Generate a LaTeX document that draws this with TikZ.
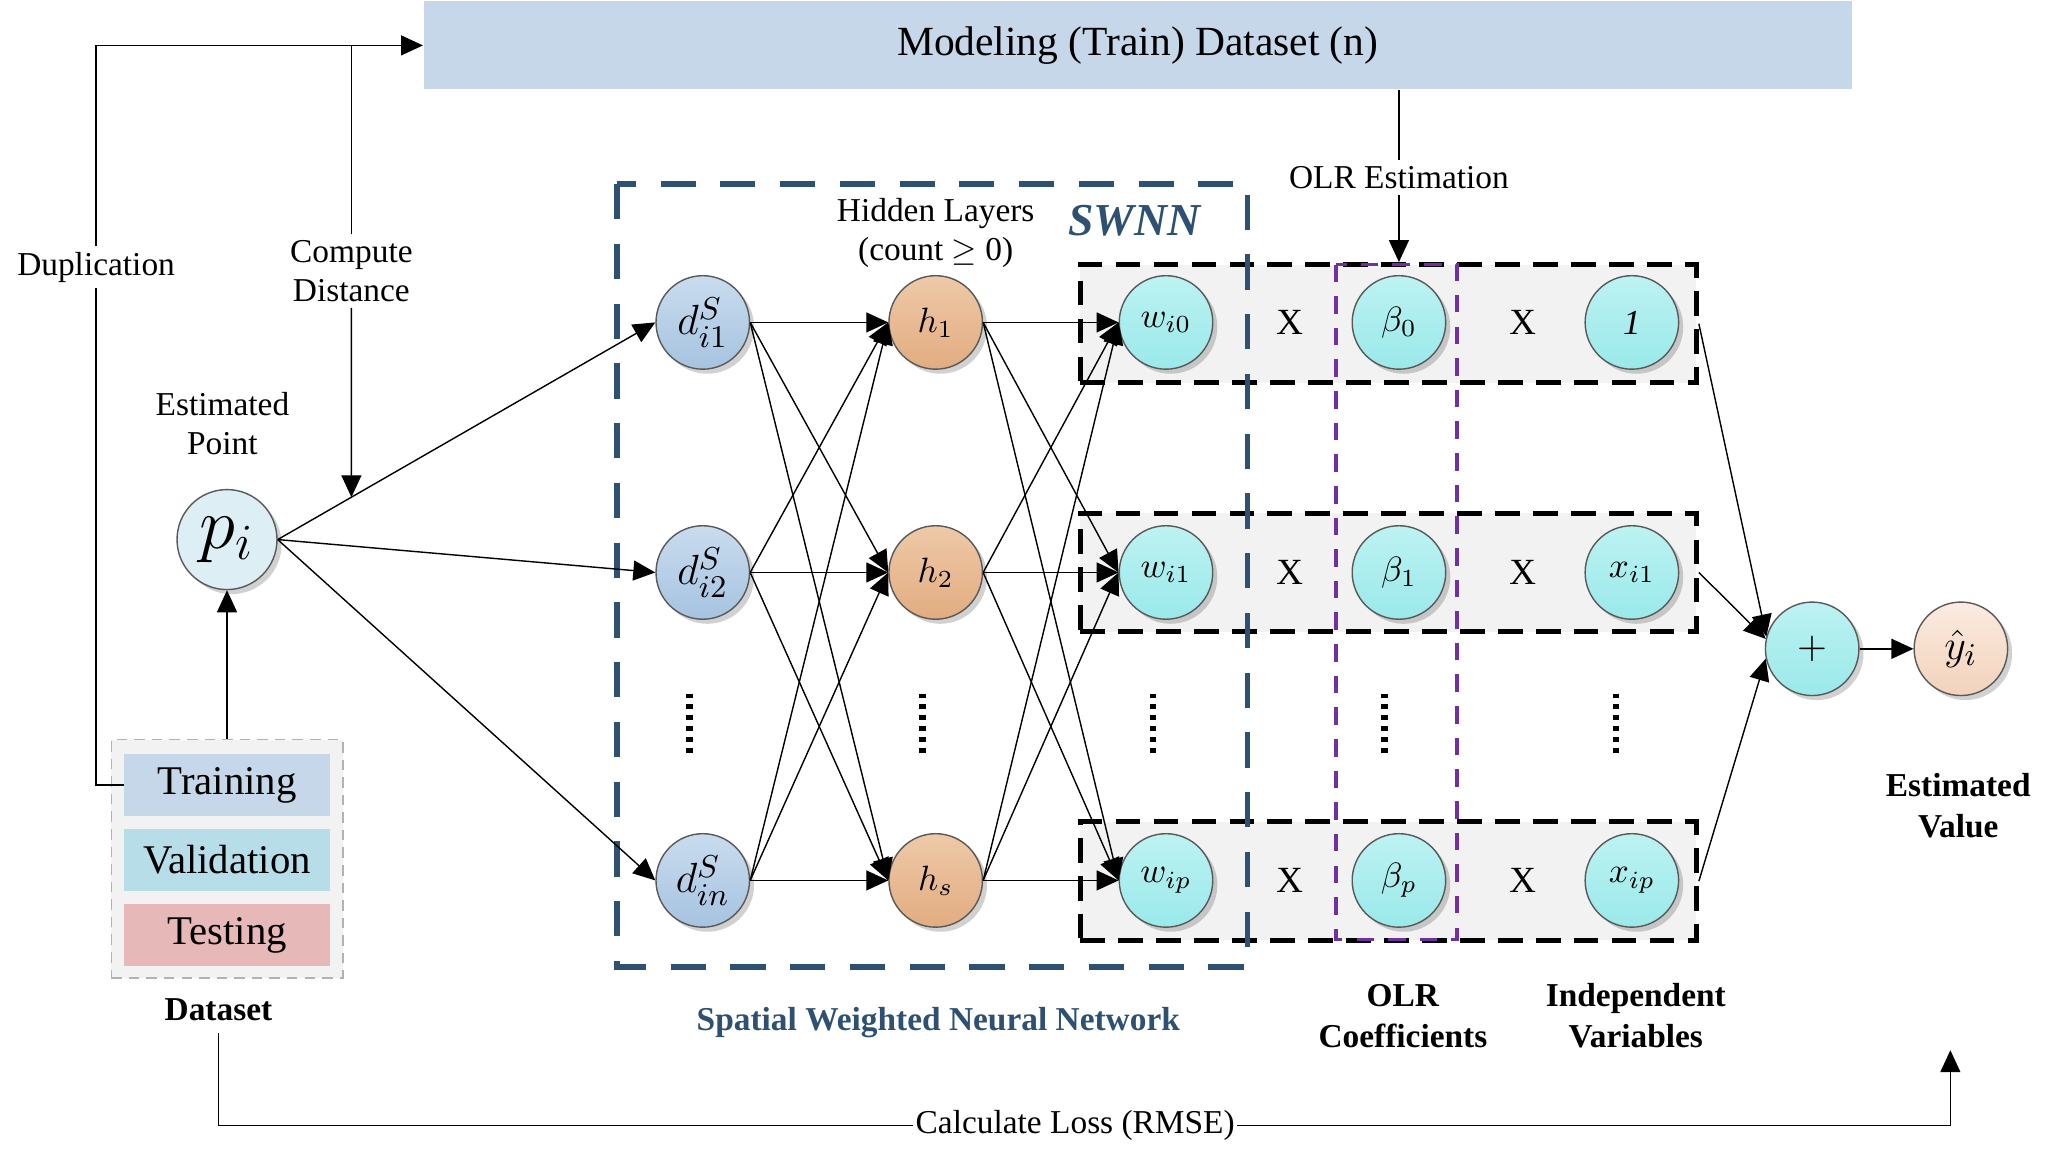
\documentclass[tikz,border=0pt]{standalone}
\usepackage{fontspec}
\setmainfont{Liberation Serif}
\usepackage{amsmath}
\usepackage{amssymb}
\usetikzlibrary{arrows.meta, shadows, calc}

\definecolor{inT}{HTML}{C9DCEE}
\definecolor{inB}{HTML}{A6C3E0}
\definecolor{hidT}{HTML}{EEC9A8}
\definecolor{hidB}{HTML}{E2AC80}
\definecolor{cyT}{HTML}{BDF2F2}
\definecolor{cyB}{HTML}{9AE9EA}
\definecolor{ptfill}{HTML}{DDEFF5}
\definecolor{yT}{HTML}{FBEBE0}
\definecolor{yB}{HTML}{F2D2BB}
\definecolor{hdrblue}{HTML}{C5D7E8}
\definecolor{trainblue}{HTML}{C5D7E8}
\definecolor{validblue}{HTML}{B7DEE8}
\definecolor{testred}{HTML}{E6B9B8}
\definecolor{panelgray}{HTML}{F2F2F2}
\definecolor{swnnblue}{HTML}{2E5072}
\definecolor{olrpurple}{HTML}{7030A0}

\tikzset{
    neuron/.style={circle, draw=black!65, line width=0.4pt,
        minimum size=9.35mm, inner sep=0pt,
        drop shadow={shadow xshift=1.3pt, shadow yshift=-1.3pt,
            fill=black, opacity=0.18}}, % preset style for a neuron
    dnode/.style={neuron, top color=inT, bottom color=inB,
        font=\fontsize{12.5}{14}\selectfont},
    hnode/.style={neuron, top color=hidT, bottom color=hidB,
        font=\fontsize{10}{12}\selectfont},
    cnode/.style={neuron, top color=cyT, bottom color=cyB,
        font=\fontsize{10}{12}\selectfont},
    conn/.style={-{Triangle[length=2.2mm, width=2mm]},
        line width=0.4pt}, % preset style for a connector
    rowbox/.style={draw, fill=panelgray, line width=1.4pt,
        dash pattern=on 7pt off 3.8pt, minimum width=61.6mm,
        minimum height=11.84mm, inner sep=0pt}, % one product row
    dsbar/.style={minimum width=20.53mm, minimum height=6.19mm,
        inner sep=0pt, font=\fontsize{11.6}{13}\selectfont},
    lbl/.style={align=center, fill=white, inner sep=1.5pt,
        font=\fontsize{9.5}{11.2}\selectfont},
    blbl/.style={align=center, font=\bfseries\fontsize{9.5}{11.6}\selectfont},
    mult/.style={font=\fontsize{10.5}{12}\selectfont},
    vdots/.style={line width=1.9pt, dash pattern=on 1.4pt off 1.7pt},
}

\begin{document}
\begin{tikzpicture}[x=0.1316mm, y=-0.1316mm]
        \useasboundingbox (0,0) rectangle (1560,878);
        % header
        \node[fill=hdrblue, minimum width=142.8mm, minimum height=8.8mm,
            inner sep=0pt, font=\fontsize{11.8}{14}\selectfont] (topbox)
            at (864.5,34.5) {Modeling (Train) Dataset (n)};

        % product rows and frames
        \node[rowbox] (r0) at (1055,246) {};
        \node[rowbox] (r1) at (1055,435) {};
        \node[rowbox] (rp) at (1055,669.5) {};
        \draw[swnnblue, line width=1.6pt, dash pattern=on 10pt off 7pt]
            (469,140) rectangle (948,735);
        \draw[olrpurple, line width=1pt, dash pattern=on 5pt off 4pt]
            (1015,201) rectangle (1107,714);

        % dataset
        \node[draw=black!30, dash pattern=on 3pt off 2pt, fill=panelgray,
            minimum width=23.16mm, minimum height=23.82mm, inner sep=0pt]
            (dsbox) at (172.5,652.5) {};
        \node[dsbar, fill=trainblue] (train) at (172.5,596.5) {Training};
        \node[dsbar, fill=validblue] (valid) at (172.5,653.5) {Validation};
        \node[dsbar, fill=testred] (test) at (172.5,710.5) {Testing};
        \node[blbl] (dslabel) at (166,767) {Dataset};

        % neurons
        \node[neuron, fill=ptfill, minimum size=10mm,
            font=\fontsize{22}{24}\selectfont] (pi) at (172.5,410) {$p_i$};
        \node[dnode] (d1) at (534,245) {$d^S_{i1}$};
        \node[dnode] (d2) at (534,435) {$d^S_{i2}$};
        \node[dnode] (dn) at (534,669) {$d^S_{in}$};
        \node[hnode] (h1) at (711,245) {$h_1$};
        \node[hnode] (h2) at (711,435) {$h_2$};
        \node[hnode] (hs) at (711,669) {$h_s$};
        \node[cnode] (w0) at (886,245) {$w_{i0}$};
        \node[cnode] (w1) at (886,435) {$w_{i1}$};
        \node[cnode] (wp) at (886,669) {$w_{ip}$};
        \node[cnode] (b0) at (1063,245) {$\beta_0$};
        \node[cnode] (b1) at (1063,435) {$\beta_1$};
        \node[cnode] (bp) at (1063,669) {$\beta_p$};
        \node[cnode] (x0) at (1240,245) {$\mathit{1}$};
        \node[cnode] (x1) at (1240,435) {$x_{i1}$};
        \node[cnode] (xp) at (1240,669) {$x_{ip}$};
        \node[cnode, font=\fontsize{11}{12}\selectfont] (sum) at (1377,493) {$+$};
        \node[neuron, top color=yT, bottom color=yB,
            font=\fontsize{13}{15}\selectfont] (yhat) at (1490,493) {$\hat{y}_i$};
        \node[mult] (ma0) at (980,245) {X};
        \node[mult] (ma1) at (980,435) {X};
        \node[mult] (map) at (980,669) {X};
        \node[mult] (mb0) at (1157,245) {X};
        \node[mult] (mb1) at (1157,435) {X};
        \node[mult] (mbp) at (1157,669) {X};
        \foreach \x in {524,701,876,1052,1228}
            \draw[vdots] (\x,527) -- (\x,573);

        % labels
        \node[lbl] (dup) at (73,203) {Duplication};
        \node[lbl] (cd) at (267,206) {Compute\\Distance};
        \node[lbl] (ep) at (169,322) {Estimated\\Point};
        \node[lbl] (hid) at (711,177) {Hidden Layers\\(count $\geq$ 0)};
        \node[font=\bfseries\itshape\fontsize{13}{15}\selectfont, text=swnnblue]
            (swnn) at (862,168) {SWNN};
        \node[lbl] (olr) at (1063,135) {OLR Estimation};
        \node[blbl, text=swnnblue] (swnnname) at (713,777)
            {Spatial Weighted Neural Network};
        \node[blbl] (olrc) at (1066,772) {OLR\\Coefficients};
        \node[blbl] (indep) at (1243,772) {Independent\\Variables};
        \node[blbl] (estv) at (1488,612) {Estimated\\Value};
        \node[lbl, inner sep=0.5pt] (loss) at (817,855) {Calculate Loss (RMSE)};
        \coordinate (lossend) at (1482,798);

        % connectors
        \draw (train.west) -| (dup.south);
        \draw[conn] (dup.north) |- (topbox.west);
        \draw (cd.north) -- (cd.north |- topbox.west);
        \coordinate (cdhit) at (intersection of pi.east--d1.west and cd.south--cd.north);
        \draw[conn] (cd.south) -- (cdhit);
        \draw[conn] (dsbox.north) -- (pi.south);
        \foreach \n in {d1,d2,dn}
            \draw[conn] (pi.east) -- (\n.west);
        \foreach \a in {d1,d2,dn} {
            \foreach \b in {h1,h2,hs} {
                \draw[conn] (\a.east) -- (\b.west);
            }
        }
        \foreach \a in {h1,h2,hs} {
            \foreach \b in {w0,w1,wp} {
                \draw[conn] (\a.east) -- (\b.west);
            }
        }
        \draw (olr.north) -- (olr.north |- topbox.south);
        \draw[conn] (olr.south) -- (olr.south |- r0.north);
        \draw[conn] (r0.east) -- (sum.165);
        \draw[conn] (r1.east) -- (sum.168);
        \draw[conn] (rp.east) -- (sum.192);
        \draw[conn] (sum.east) -- (yhat.west);
        \draw (dslabel.south) |- (loss.west);
        \draw[conn] (loss.east) -| (lossend);
\end{tikzpicture}
\end{document}
